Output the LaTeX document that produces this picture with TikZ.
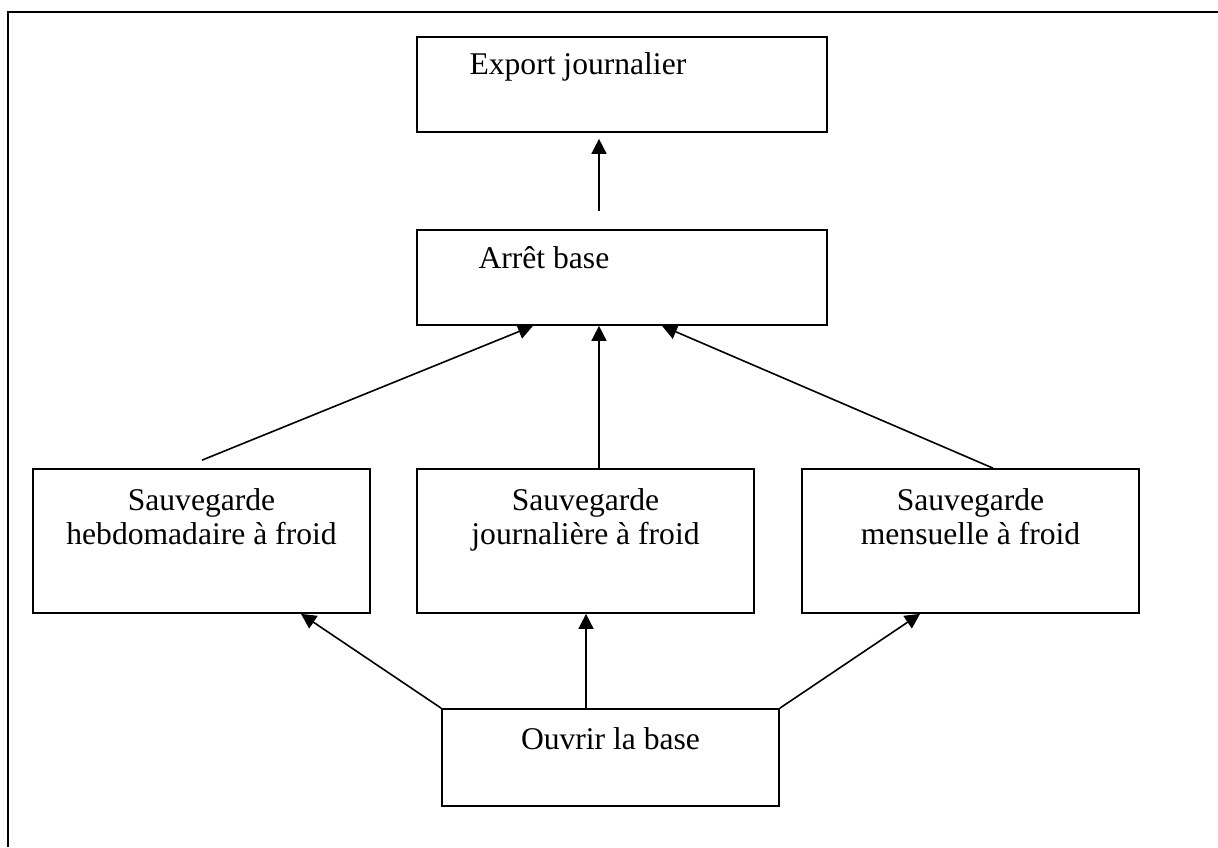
\documentclass[tikz,border=0pt]{standalone}
\usepackage{fontspec}
\setmainfont{Liberation Serif}
\usetikzlibrary{arrows.meta,calc}

\begin{document}
\begin{tikzpicture}[x=0.5pt, y=0.5pt,
            boite/.style={draw, line width=0.85pt, inner sep=0pt, minimum width=168.5pt},
            texte/.style={inner sep=0pt, font=\fontsize{15.8}{17}\selectfont, align=center},
            fleche/.style={-{Triangle[length=7.5pt,width=7.5pt]}, line width=0.8pt}]
            \useasboundingbox (0,0) rectangle (1218,847);
            \draw[line width=1pt] (8,0) -- (8,835) -- (1218,835);
            \node[boite, minimum width=205pt, minimum height=47.5pt] (export) at (622,762.5) {};
            \node[texte, anchor=base west] (export-t) at ($(export.north west)+(53,-38)$) {Export journalier};
            \node[boite, minimum width=205pt, minimum height=47.5pt] (arret) at (622,569.5) {};
            \node[texte, anchor=base west] (arret-t) at ($(arret.north west)+(62,-39)$) {Arrêt base};
            \foreach \nom/\x/\mot in {hebdo/201.5/hebdomadaire, journ/585.5/journalière, mens/970.5/mensuelle} {
                \node[boite, minimum height=72pt] (\nom) at (\x,306) {};
                \node[texte, anchor=base] (\nom-t) at ($(\nom.north)+(0,-76)$) {Sauvegarde\\\mot\ à froid};
            }
            \node[boite, minimum height=48.5pt] (ouvrir) at (610.5,89.5) {};
            \node[texte, anchor=base] (ouvrir-t) at ($(ouvrir.north)+(0,-41)$) {Ouvrir la base};
            \coordinate (depart) at ($(arret.north)+(-23,18)$);
            \coordinate (hdepart) at ($(hebdo.north)+(0.5,8)$);
            \coordinate (jbas) at ($(journ.south)+(0.5,0)$);
            \draw[fleche] (depart) -- ($(export.south)+(-23,-6)$);
            \draw[fleche] (hdepart) -- ($(arret.south)+(-89,0)$);
            \draw[fleche] ($(journ.north)+(13.5,0)$) -- ($(arret.south)+(-23,0)$);
            \draw[fleche] ($(mens.north)+(22.5,0)$) -- ($(arret.south)+(40,0)$);
            \draw[fleche] (ouvrir.north west) -- ($(hebdo.south)+(99.5,0)$);
            \draw[fleche] (jbas |- ouvrir.north) -- (jbas);
            \draw[fleche] (ouvrir.north east) -- ($(mens.south)+(-50.5,0)$);
        \end{tikzpicture}
\end{document}
